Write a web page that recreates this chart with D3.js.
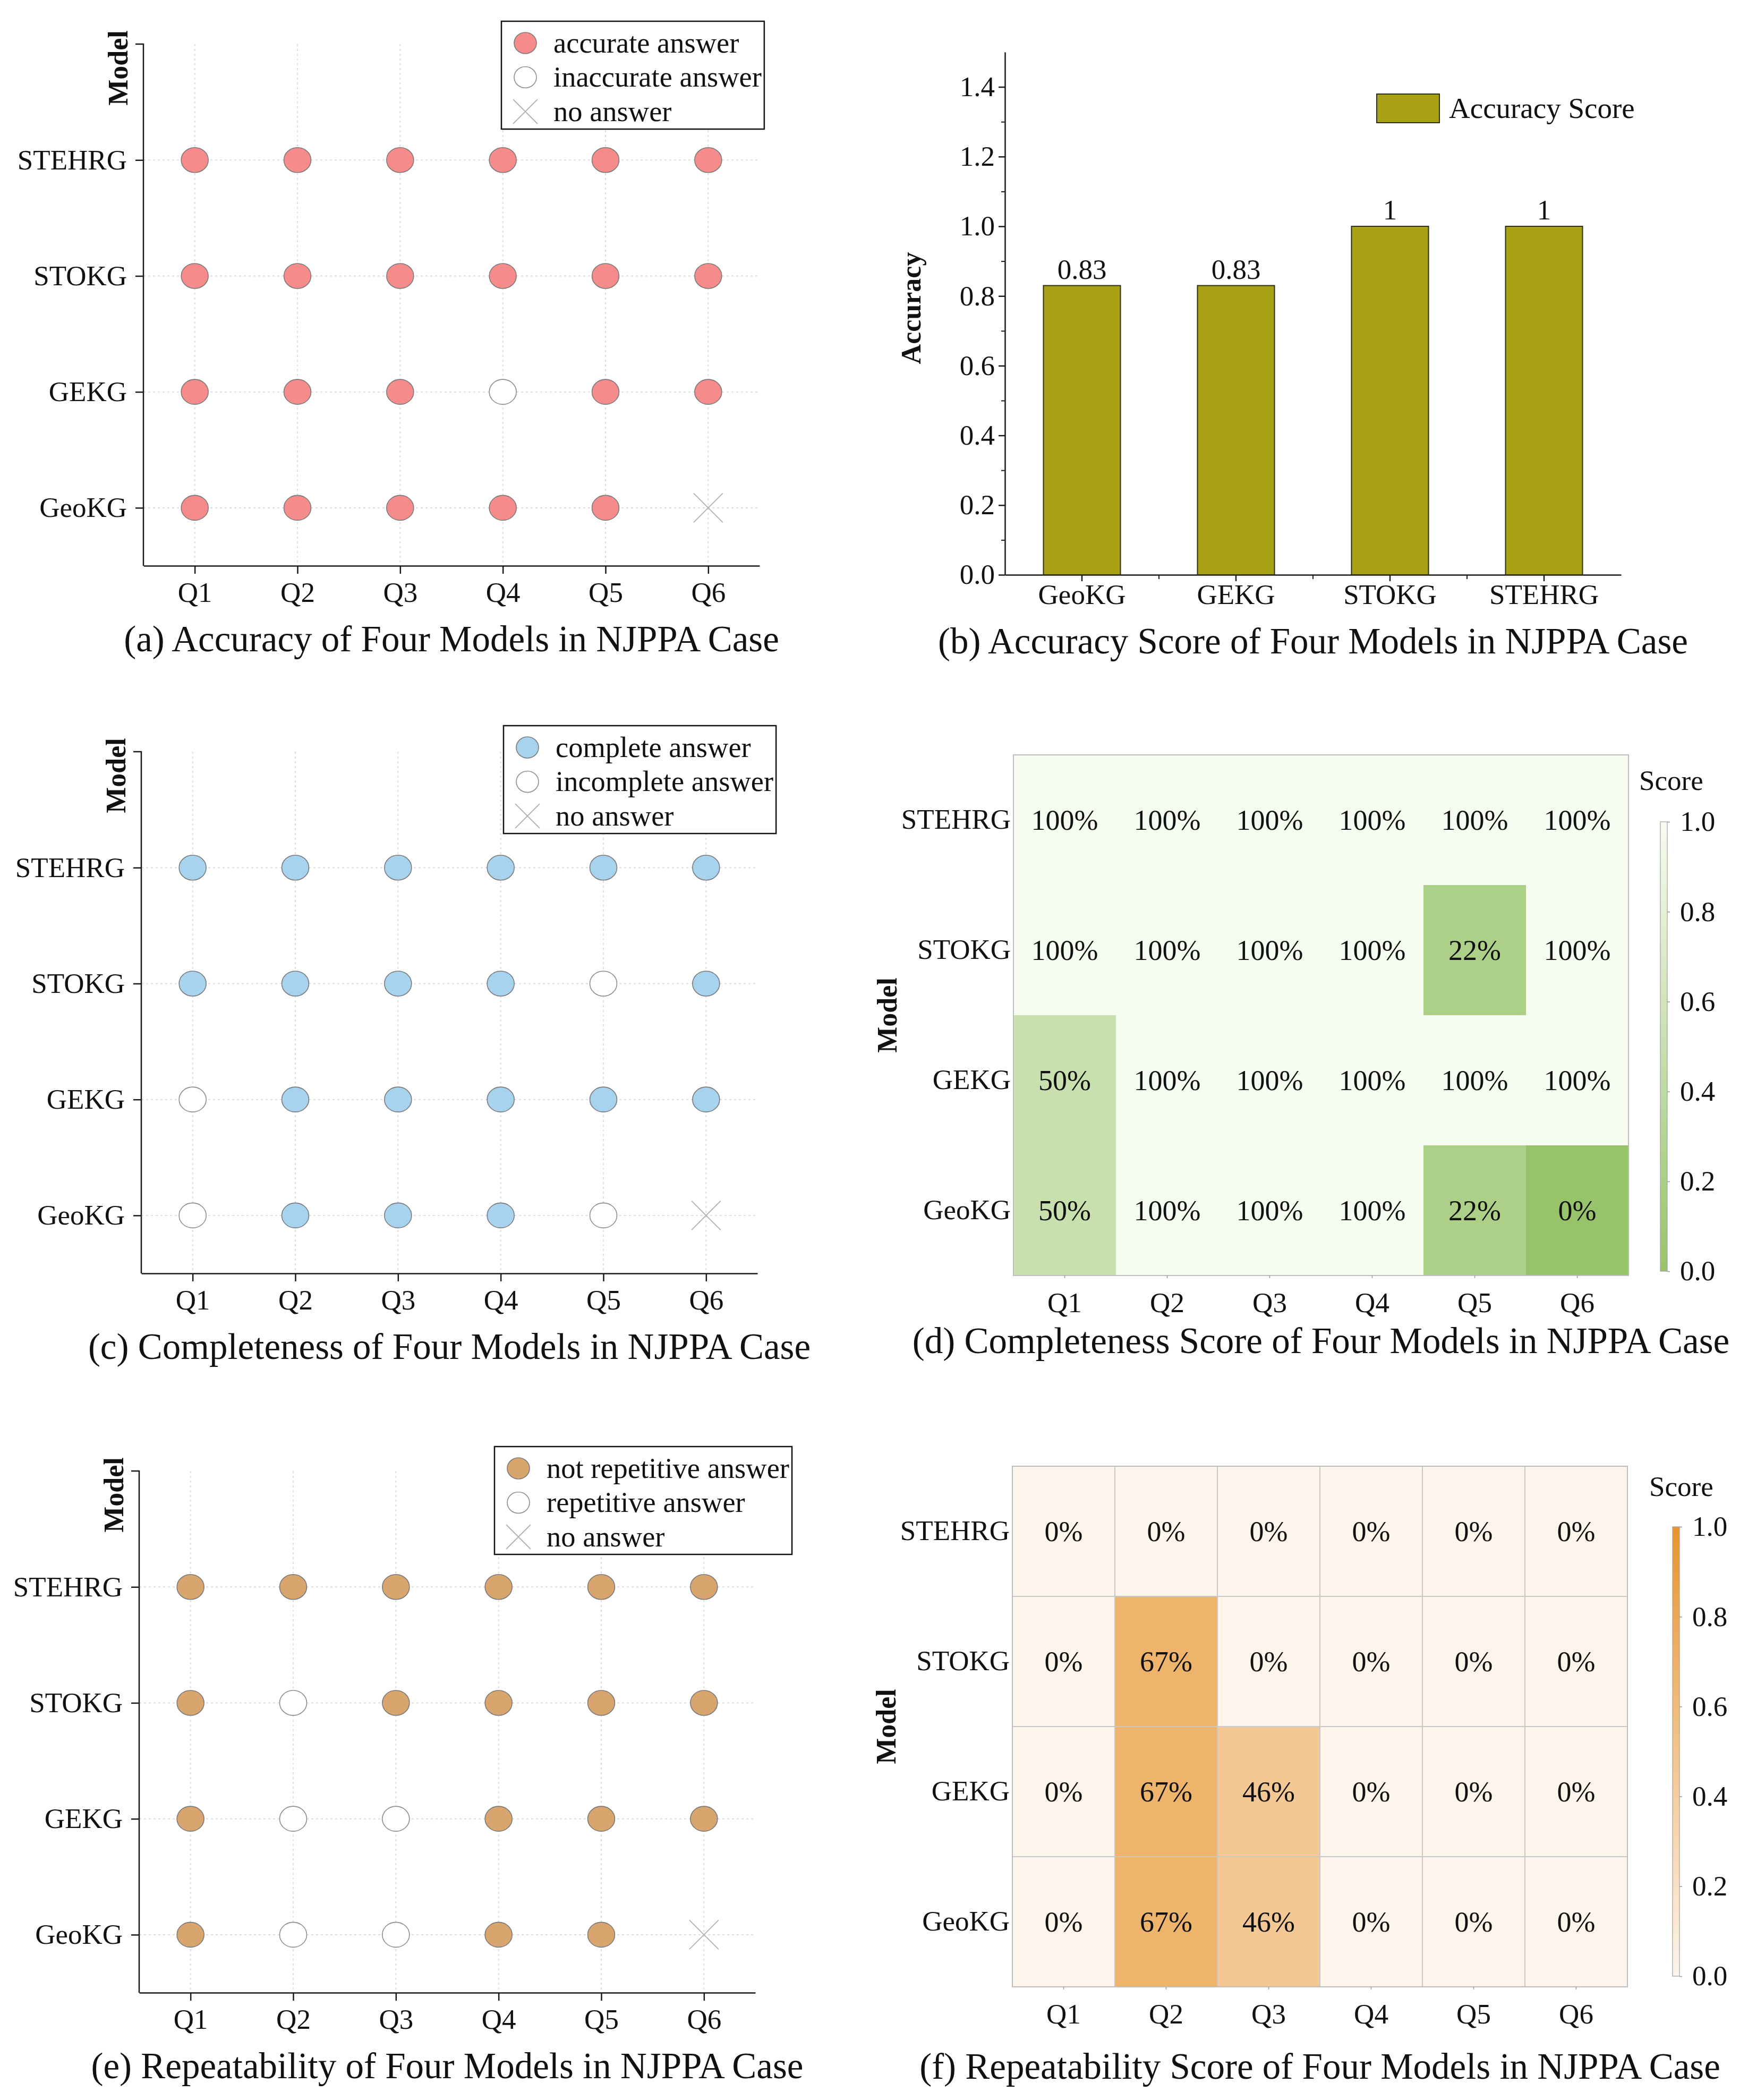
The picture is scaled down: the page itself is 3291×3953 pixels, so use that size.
<!DOCTYPE html>
<html>
<head>
<meta charset="utf-8">
<script src="https://cdn.jsdelivr.net/npm/d3@7"></script>
<style>
  html, body { margin: 0; padding: 0; background: #fff; }
  svg { display: block; }
</style>
</head>
<body>
<div id="chart"></div>
<script>
// Dados
const questions = ["Q1", "Q2", "Q3", "Q4", "Q5", "Q6"];
const models = ["GeoKG", "GEKG", "STOKG", "STEHRG"];

// Y = answer ok, N = open circle, X = no answer (rows follow `models`)
const accuracyStatus = [
  ["Y", "Y", "Y", "Y", "Y", "X"],
  ["Y", "Y", "Y", "N", "Y", "Y"],
  ["Y", "Y", "Y", "Y", "Y", "Y"],
  ["Y", "Y", "Y", "Y", "Y", "Y"]
];
const completenessStatus = [
  ["N", "Y", "Y", "Y", "N", "X"],
  ["N", "Y", "Y", "Y", "Y", "Y"],
  ["Y", "Y", "Y", "Y", "N", "Y"],
  ["Y", "Y", "Y", "Y", "Y", "Y"]
];
const repeatStatus = [
  ["Y", "N", "N", "Y", "Y", "X"],
  ["Y", "N", "N", "Y", "Y", "Y"],
  ["Y", "N", "Y", "Y", "Y", "Y"],
  ["Y", "Y", "Y", "Y", "Y", "Y"]
];

const accuracyScores = [0.83, 0.83, 1, 1];
const accuracyTicks = [0, 0.2, 0.4, 0.6, 0.8, 1.0, 1.2, 1.4];

const completenessScores = [
  [0.5, 1, 1, 1, 0.22, 0],
  [0.5, 1, 1, 1, 1, 1],
  [1, 1, 1, 1, 0.22, 1],
  [1, 1, 1, 1, 1, 1]
];
const repeatScores = [
  [0, 0.67, 0.46, 0, 0, 0],
  [0, 0.67, 0.46, 0, 0, 0],
  [0, 0.67, 0, 0, 0, 0],
  [0, 0, 0, 0, 0, 0]
];
const scoreTicks = [0, 0.2, 0.4, 0.6, 0.8, 1.0];

const accuracyLegend = ["accurate answer", "inaccurate answer", "no answer"];
const completenessLegend = ["complete answer", "incomplete answer", "no answer"];
const repeatLegend = ["not repetitive answer", "repetitive answer", "no answer"];

const captions = [
  "(a) Accuracy of Four Models in NJPPA Case",
  "(b) Accuracy Score of Four Models in NJPPA Case",
  "(c) Completeness of Four Models in NJPPA Case",
  "(d) Completeness Score of Four Models in NJPPA Case",
  "(e) Repeatability of Four Models in NJPPA Case",
  "(f) Repeatability Score of Four Models in NJPPA Case"
];

// Configurações comuns
const FONT = '"Liberation Serif", "Times New Roman", serif';
const svg = d3.select("#chart").append("svg")
  .attr("width", 3291).attr("height", 3953)
  .attr("font-family", FONT);
svg.append("rect").attr("width", 3291).attr("height", 3953).attr("fill", "#fff");

function styleAxis(sel, size) {
  sel.attr("font-family", FONT).attr("font-size", size).attr("color", "#1a1a1a");
  sel.selectAll("text").attr("fill", "#111");
  sel.selectAll("line, path").attr("stroke-width", 2.5);
}

function caption(text, cx, y) {
  svg.append("text").attr("x", cx).attr("y", y)
    .attr("text-anchor", "middle").attr("font-size", 69).attr("fill", "#111")
    .text(text);
}

function modelLabel(cx, cy, label) {
  svg.append("text")
    .attr("transform", `translate(${cx},${cy}) rotate(-90)`)
    .attr("text-anchor", "middle").attr("dy", "0.35em")
    .attr("font-size", 52).attr("font-weight", "bold").attr("fill", "#111")
    .text(label);
}

function drawMarker(g, kind, fill, rx, ry) {
  if (kind === "X") {
    const s = rx + 2;
    g.append("path")
      .attr("d", `M${-s},${-s}L${s},${s}M${-s},${s}L${s},${-s}`)
      .attr("stroke", "#b5b5b5").attr("stroke-width", 2).attr("fill", "none");
  } else {
    g.append("ellipse").attr("rx", rx).attr("ry", ry)
      .attr("fill", kind === "Y" ? fill : "#fff")
      .attr("stroke", kind === "Y" ? "#7a7a7a" : "#8c8c8c")
      .attr("stroke-width", 1.6);
  }
}

// Painéis de pontos
function drawDotPanel(cfg) {
  const w = 1160, h = 982;
  const top = cfg.top, bottom = cfg.top + h, x0 = cfg.x0;
  const step = h / 4.5;
  const g = svg.append("g");

  const x = d3.scalePoint().domain(questions).range([x0, x0 + w]).padding(0.5);
  const y = d3.scalePoint().domain(models).range([bottom - step / 2, top + step]);

  // Grid
  g.selectAll(".vgrid").data(questions).join("line")
    .attr("x1", d => x(d)).attr("x2", d => x(d))
    .attr("y1", top).attr("y2", bottom)
    .attr("stroke", "#dcdcdc").attr("stroke-width", 2).attr("stroke-dasharray", "4,5");
  g.selectAll(".hgrid").data(models).join("line")
    .attr("x1", x0).attr("x2", x0 + w)
    .attr("y1", d => y(d)).attr("y2", d => y(d))
    .attr("stroke", "#dcdcdc").attr("stroke-width", 2).attr("stroke-dasharray", "4,5");

  // Eixos
  const xa = g.append("g").attr("transform", `translate(0,${bottom})`)
    .call(d3.axisBottom(x).tickSize(15).tickSizeOuter(0).tickPadding(15));
  styleAxis(xa, 53);
  const ya = g.append("g").attr("transform", `translate(${x0},0)`)
    .call(d3.axisLeft(y).tickSize(15).tickPadding(16));
  ya.select(".domain").remove();
  styleAxis(ya, 53);
  g.append("path").attr("d", `M${x0 - 15},${top}H${x0}V${bottom}`)
    .attr("fill", "none").attr("stroke", "#1a1a1a").attr("stroke-width", 2.5);

  // Pontos
  const cells = models.flatMap((m, i) => questions.map((q, j) => ({ m, q, s: cfg.status[i][j] })));
  cells.forEach(d => {
    const mg = g.append("g").attr("transform", `translate(${x(d.q)},${y(d.m)})`);
    drawMarker(mg, d.s, cfg.fill, 25.5, 23.5);
  });

  // Legenda
  const lg = g.append("g").attr("transform", `translate(${x0 + cfg.legendDx},${top + cfg.legendDy})`);
  const kinds = ["Y", "N", "X"];
  let maxLen = 0;
  cfg.legend.forEach((label, i) => {
    const ry = 41 + i * 64.5;
    drawMarker(lg.append("g").attr("transform", `translate(45,${ry})`), kinds[i], cfg.fill, 21, 20);
    const t = lg.append("text").attr("x", 98).attr("y", ry).attr("dy", "0.33em")
      .attr("font-size", 54.5).attr("fill", "#111").text(label);
    maxLen = Math.max(maxLen, t.node().getComputedTextLength());
  });
  lg.insert("rect", ":first-child")
    .attr("width", 98 + maxLen + 5).attr("height", 203)
    .attr("fill", "#fff").attr("stroke", "#111").attr("stroke-width", 2.5);

  modelLabel(x0 - 48, top + 45, "Model");
  caption(cfg.caption, x0 + w / 2, bottom + 161);
}

// Gráfico de barras
function drawBarPanel() {
  const left = 1892, right = 3052, base = 1082, top = 98;
  const g = svg.append("g");
  const x = d3.scaleBand().domain(models).range([left, right]).paddingInner(0.5).paddingOuter(0.25);
  const y = d3.scaleLinear().domain([0, 1.5]).range([base, top]);

  // Minor ticks
  const minor = g.append("g").attr("transform", `translate(${left},0)`)
    .call(d3.axisLeft(y).tickValues(d3.range(1, 14, 2).map(i => i / 10)).tickSize(7).tickFormat(""));
  minor.select(".domain").remove();
  styleAxis(minor, 52);
  minor.selectAll("line").attr("stroke-width", 2);

  const ya = g.append("g").attr("transform", `translate(${left},0)`)
    .call(d3.axisLeft(y).tickValues(accuracyTicks).tickFormat(d3.format(".1f"))
      .tickSize(12).tickSizeOuter(0).tickPadding(7));
  styleAxis(ya, 53);

  const xa = g.append("g").attr("transform", `translate(0,${base})`)
    .call(d3.axisBottom(x).tickSize(12).tickSizeOuter(0).tickPadding(5));
  styleAxis(xa, 53);
  const gapHalf = (x.step() - x.bandwidth()) / 2;
  g.selectAll(".btick").data(models.slice(0, -1)).join("line")
    .attr("x1", d => x(d) + x.bandwidth() + gapHalf).attr("x2", d => x(d) + x.bandwidth() + gapHalf)
    .attr("y1", base).attr("y2", base + 8)
    .attr("stroke", "#1a1a1a").attr("stroke-width", 2);

  g.selectAll(".bar").data(accuracyScores).join("rect")
    .attr("x", (d, i) => x(models[i]))
    .attr("y", d => y(d))
    .attr("width", x.bandwidth())
    .attr("height", d => y(0) - y(d))
    .attr("fill", "#a8a116").attr("stroke", "#2e2e14").attr("stroke-width", 2);

  g.selectAll(".blabel").data(accuracyScores).join("text")
    .attr("x", (d, i) => x(models[i]) + x.bandwidth() / 2)
    .attr("y", d => y(d) - 13)
    .attr("text-anchor", "middle").attr("font-size", 53).attr("fill", "#111")
    .text(d => String(d));

  // Legenda
  g.append("rect").attr("x", 2592).attr("y", 177).attr("width", 118).attr("height", 54)
    .attr("fill", "#a8a116").attr("stroke", "#2e2e14").attr("stroke-width", 2);
  g.append("text").attr("x", 2728).attr("y", 204).attr("dy", "0.33em")
    .attr("font-size", 55).attr("fill", "#111").text("Accuracy Score");

  modelLabel(1715, 580, "Accuracy");
  caption(captions[1], (left + right) / 2, 1230);
}

// Mapas de calor
function drawHeatPanel(cfg) {
  const w = 1158, h = 980;
  const x0 = cfg.x0, top = cfg.top;
  const g = svg.append("g");
  const x = d3.scaleBand().domain(questions).range([x0, x0 + w]);
  const y = d3.scaleBand().domain(models).range([top + h, top]);
  const color = d3.scaleLinear().domain([0, 1]).range(cfg.colors);

  const cells = models.flatMap((m, i) => questions.map((q, j) => ({ m, q, v: cfg.scores[i][j] })));

  g.selectAll(".cell").data(cells).join("rect")
    .attr("x", d => x(d.q)).attr("y", d => y(d.m))
    .attr("width", x.bandwidth()).attr("height", y.bandwidth())
    .attr("fill", d => color(d.v))
    .attr("stroke", cfg.grid ? "#c8c8c8" : "none").attr("stroke-width", 2);
  g.append("rect").attr("x", x0).attr("y", top).attr("width", w).attr("height", h)
    .attr("fill", "none").attr("stroke", "#bdbdbd").attr("stroke-width", 2);

  g.selectAll(".val").data(cells).join("text")
    .attr("x", d => x(d.q) + x.bandwidth() / 2)
    .attr("y", d => y(d.m) + y.bandwidth() / 2)
    .attr("dy", "0.35em").attr("text-anchor", "middle")
    .attr("font-size", 54).attr("fill", "#111")
    .text(d => d3.format(".0%")(d.v));

  const ya = g.append("g").attr("transform", `translate(${x0},0)`)
    .call(d3.axisLeft(y).tickSize(0).tickPadding(5));
  ya.select(".domain").remove();
  styleAxis(ya, 53);

  const xa = g.append("g").attr("transform", `translate(0,${top + h})`)
    .call(d3.axisBottom(x).tickSize(5).tickPadding(26));
  xa.select(".domain").remove();
  styleAxis(xa, 53);
  xa.selectAll("line").attr("stroke", "#999").attr("stroke-width", 1.5);

  // Barra de cores
  const gid = "grad-" + cfg.id;
  const grad = svg.append("defs").append("linearGradient").attr("id", gid)
    .attr("x1", 0).attr("y1", 1).attr("x2", 0).attr("y2", 0);
  grad.append("stop").attr("offset", 0).attr("stop-color", cfg.colors[0]);
  grad.append("stop").attr("offset", 1).attr("stop-color", cfg.colors[1]);
  const cs = d3.scaleLinear().domain([0, 1]).range([cfg.cbBottom, cfg.cbTop]);
  g.append("rect").attr("x", cfg.cbX).attr("y", cfg.cbTop)
    .attr("width", 13).attr("height", cfg.cbBottom - cfg.cbTop)
    .attr("fill", `url(#${gid})`).attr("stroke", "#a0a0a0").attr("stroke-width", 1.2);
  const ca = g.append("g").attr("transform", `translate(${cfg.cbX + 13},0)`)
    .call(d3.axisRight(cs).tickValues(scoreTicks).tickFormat(d3.format(".1f")).tickSize(5).tickPadding(19));
  ca.select(".domain").remove();
  styleAxis(ca, 53);
  ca.selectAll("line").attr("stroke", "#999").attr("stroke-width", 1.5);

  g.append("text").attr("x", cfg.scoreX).attr("y", cfg.scoreY)
    .attr("font-size", 53).attr("fill", "#111").text("Score");

  modelLabel(x0 - 238, top + h / 2, "Model");
  caption(cfg.caption, x0 + w / 2, cfg.captionY);
}

drawDotPanel({ x0: 270, top: 83, status: accuracyStatus, fill: "#f58b8b",
  legend: accuracyLegend, legendDx: 674, legendDy: -43, caption: captions[0] });
drawBarPanel();
drawDotPanel({ x0: 266, top: 1415, status: completenessStatus, fill: "#a7d3ef",
  legend: completenessLegend, legendDx: 682, legendDy: -49, caption: captions[2] });
drawHeatPanel({ id: "d", x0: 1908, top: 1421, scores: completenessScores,
  colors: ["#97c46a", "#f7fcf0"], grid: false,
  cbX: 3126, cbTop: 1547, cbBottom: 2393, scoreX: 3086, scoreY: 1487,
  caption: captions[3], captionY: 2547 });
drawDotPanel({ x0: 262, top: 2769, status: repeatStatus, fill: "#d8a56f",
  legend: repeatLegend, legendDx: 669, legendDy: -46, caption: captions[4] });
drawHeatPanel({ id: "f", x0: 1906, top: 2760, scores: repeatScores,
  colors: ["#fdf4eb", "#e8942e"], grid: true,
  cbX: 3149, cbTop: 2874, cbBottom: 3720, scoreX: 3105, scoreY: 2816,
  caption: captions[5], captionY: 3913 });
</script>
</body>
</html>
